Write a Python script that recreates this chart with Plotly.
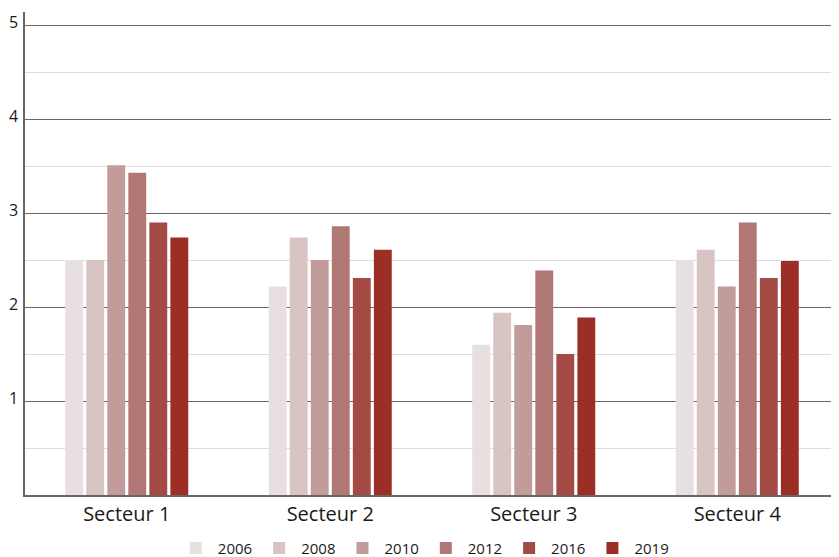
import plotly.graph_objects as go

categories = ["Secteur 1", "Secteur 2", "Secteur 3", "Secteur 4"]
years = ["2006", "2008", "2010", "2012", "2016", "2019"]
values = {
    "2006": [2.50, 2.22, 1.60, 2.50],
    "2008": [2.50, 2.74, 1.94, 2.61],
    "2010": [3.51, 2.50, 1.81, 2.22],
    "2012": [3.43, 2.86, 2.39, 2.90],
    "2016": [2.90, 2.31, 1.50, 2.31],
    "2019": [2.74, 2.61, 1.89, 2.49],
}
colors = ["#e8e0e0", "#d9c4c4", "#c29b9b", "#b07775", "#a34a45", "#9b2f25"]
ytick_vals = [1, 2, 3, 4, 5]

fig = go.Figure()
for y, c in zip(years, colors):
    fig.add_trace(go.Bar(name=y, x=categories, y=values[y], marker_color=c,
                         marker_line_width=0))

# page body has an 8px margin, so the figure is 831x549 drawn at (8, 8)
fig.update_layout(
    width=831, height=549,
    margin=dict(l=17, r=0, t=4, b=62),
    paper_bgcolor="white", plot_bgcolor="white",
    barmode="group", bargap=0.38, bargroupgap=0.15,
    font=dict(family="Open Sans, sans-serif", color="#1a1a1a"),
    showlegend=True,
    legend=dict(orientation="h", x=0.49, xanchor="center",
                yref="container", y=0.016, yanchor="middle",
                font=dict(size=15), itemwidth=34, traceorder="normal"),
    xaxis=dict(showline=True, linecolor="#666666", linewidth=1.5, automargin=False,
               tickfont=dict(size=20), ticks="", showgrid=False),
    yaxis=dict(range=[0, 5.14], tickvals=ytick_vals, showgrid=True, automargin=False,
               gridcolor="#666666", gridwidth=1.2,
               showline=True, linecolor="#666666", linewidth=1.5,
               zeroline=False, ticks="", tickfont=dict(size=16),
               ticklabelstandoff=2, ticklabelshift=-3,
               minor=dict(dtick=0.5, showgrid=True, gridcolor="#dddddd", gridwidth=1.2)),
)

fig.write_html("out.html")
